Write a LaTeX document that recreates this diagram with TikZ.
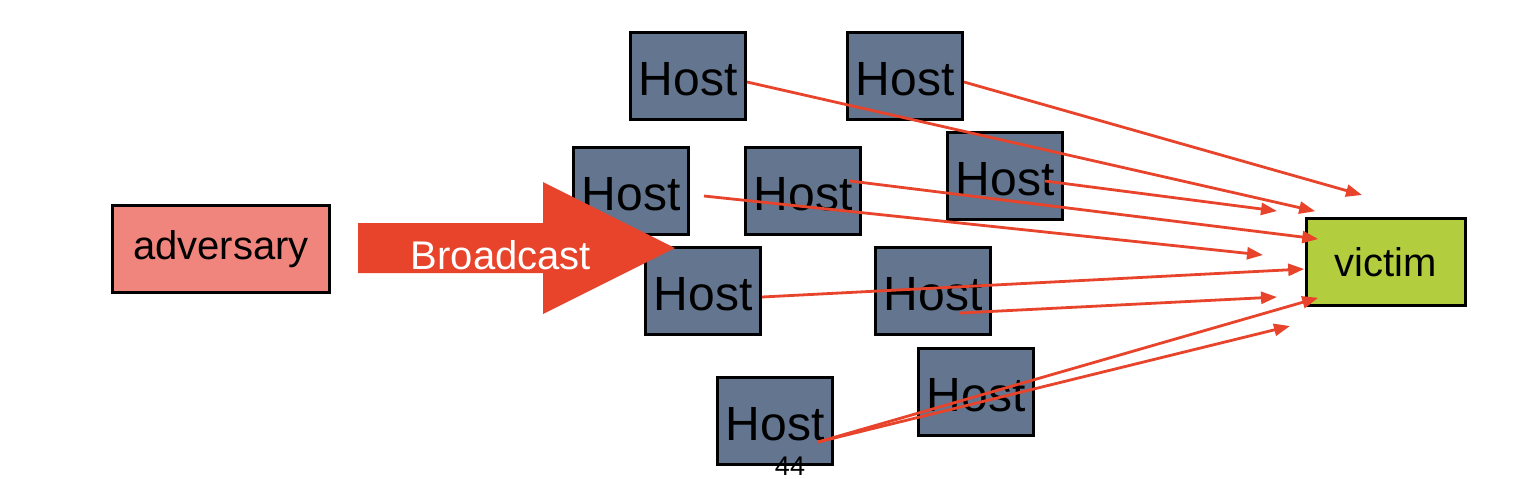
\documentclass[tikz,border=0pt]{standalone}
\usepackage{fontspec}
\setmainfont{Liberation Sans}
\usetikzlibrary{arrows.meta,calc}
\definecolor{hostblue}{HTML}{63758F}
\definecolor{advred}{HTML}{F0857D}
\definecolor{victimgreen}{HTML}{B2CE3F}
\definecolor{floodred}{HTML}{E8432B}
\tikzset{
  host/.style={draw=black, line width=1.5pt, fill=hostblue, minimum width=57.5pt,
    minimum height=43.5pt, inner sep=0pt, text height=20pt, font=\fontsize{24}{28}\selectfont},
  party/.style={draw=black, line width=1.3pt, minimum height=43.5pt, inner sep=0pt,
    font=\fontsize{20}{24}\selectfont},
  ray/.style={draw=floodred, line width=1.4pt, -{Triangle[length=8pt,width=6pt]}}
}
\begin{document}
\begin{tikzpicture}[x=0.5pt,y=-0.5pt]
      \useasboundingbox (0,0) rectangle (1540,478);
      \node[party, fill=advred, minimum width=108.5pt] (adv) at (221,249) {adversary};
      \node[party, fill=victimgreen, minimum width=79.5pt] (victim) at (1386,262) {victim};
      \node[host] (h1) at (688,76) {Host};
      \node[host] (h2) at (905,76) {Host};
      \node[host] (h3) at (631,191) {Host};
      \node[host] (h4) at (803,191) {Host};
      \node[host] (h5) at (1005,176) {Host};
      \node[host] (h6) at (703,291) {Host};
      \node[host] (h7) at (933,291) {Host};
      \node[host] (h8) at (976,392) {Host};
      \node[host] (h9) at (775,421) {Host};
      \node[font=\fontsize{13.5}{16}\selectfont] (pagenum) at (790,466) {44};
      % broadcast arrow
      \fill[floodred] (358,223) -- (543,223) -- (543,182) -- (675,248)
        -- (543,314) -- (543,273) -- (358,273) -- cycle;
      \node[text=white, font=\fontsize{20}{24}\selectfont] (bcast) at (501,255) {Broadcast};
      % free arrow ends
      \coordinate (t2) at (1362,195);
      \coordinate (t3) at (1277,211);
      \coordinate (t5) at (1263,255);
      \coordinate (t7) at (1277,297);
      \coordinate (t9) at (1290,326);
      \begin{scope}[ray]
        \draw ($(h1.east)+(0,6)$) -- ($(victim.north west)+(10,-6)$);
        \draw ($(h2.east)+(0,6)$) -- (t2);
        \draw ($(h5.center)+(40,5)$) -- (t3);
        \draw ($(h4.center)+(47,-10)$) -- ($(victim.west)+(13,-23)$);
        \draw ($(h3.east)+(14,5)$) -- (t5);
        \draw ($(h6.east)+(0,6)$) -- ($(victim.west)+(-1,7)$);
        \draw ($(h7.center)+(27,22)$) -- (t7);
        \draw ($(h9.center)+(43,21)$) -- ($(victim.south west)+(13,-9)$);
        \draw ($(h9.center)+(43,21)$) -- (t9);
      \end{scope}
    \end{tikzpicture}
\end{document}
